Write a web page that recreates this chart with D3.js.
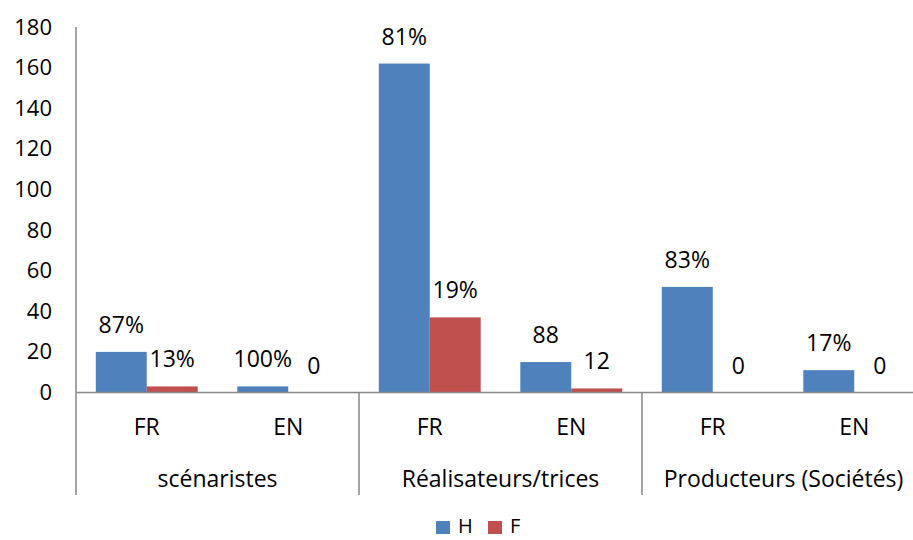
<!DOCTYPE html>
<html><head><meta charset="utf-8">
<script src="https://cdn.jsdelivr.net/npm/d3@7"></script>
<style>body{margin:0;background:#fff}svg{display:block}text{font-family:"Open Sans","Noto Sans",sans-serif;fill:#000}</style>
</head><body>
<svg id="c" width="913" height="540"></svg>
<script>
const groups = ["scénaristes", "Réalisateurs/trices", "Producteurs (Sociétés)"];
const langs = ["FR", "EN"];
const series = ["H", "F"];
const colors = ["#4f81bd", "#c0504d"];
const valuesH = [20, 3, 162, 15, 52, 11];
const valuesF = [3, 0, 37, 2, 0, 0];
const labelsH = ["87%", "100%", "81%", "88", "83%", "17%"];
const labelsF = ["13%", "0", "19%", "12", "0", "0"];
const yTicks = [0, 20, 40, 60, 80, 100, 120, 140, 160, 180];

const svg = d3.select("#c");
const x0 = 76, x1 = 925, yBase = 392.5, yTop = 27;
const y = d3.scaleLinear().domain([0, 180]).range([yBase, yTop]);
const cats = [];
groups.forEach((g, gi) => langs.forEach((l, li) => cats.push({g, l, i: gi * 2 + li})));
const xc = d3.scaleBand().domain(cats.map(c => c.i)).range([x0, x1]).paddingInner(0.28).paddingOuter(0.14);
const xs = d3.scaleBand().domain(series).range([0, xc.bandwidth()]);
const xg = d3.scaleBand().domain(groups).range([x0, x1]);
const xcat = d3.scaleBand().domain(cats.map(c => c.i)).range([x0, x1]);

const axisColor = "#868686";
// y axis
const yAxis = svg.append("g").attr("transform", `translate(${x0},0)`)
  .call(d3.axisLeft(y).tickValues(yTicks).tickSize(0).tickPadding(24).tickFormat(d3.format("d")));
yAxis.select(".domain").attr("stroke", axisColor).attr("stroke-width", 1.5).attr("d", `M0,${yTop}V${yBase}`);
yAxis.selectAll("text").attr("font-size", 22).attr("font-family", "Open Sans").attr("fill", "#000");

// bars
const data = [];
cats.forEach((c, k) => {
  data.push({k, s: "H", v: valuesH[k], lab: labelsH[k], col: colors[0]});
  data.push({k, s: "F", v: valuesF[k], lab: labelsF[k], col: colors[1]});
});
svg.append("g").selectAll("rect").data(data).join("rect")
  .attr("x", d => xc(d.k) + xs(d.s))
  .attr("width", xs.bandwidth())
  .attr("y", d => y(d.v))
  .attr("height", d => yBase - y(d.v))
  .attr("fill", d => d.col);

svg.append("g").selectAll("text").data(data).join("text")
  .attr("x", d => xc(d.k) + xs(d.s) + xs.bandwidth() / 2)
  .attr("y", d => y(d.v) - 19)
  .attr("text-anchor", "middle")
  .attr("font-size", 23)
  .text(d => d.lab);

// x axis line
svg.append("line").attr("x1", x0).attr("x2", x1).attr("y1", yBase).attr("y2", yBase)
  .attr("stroke", axisColor).attr("stroke-width", 1.5);
// group separators
const seps = groups.map(g => xg(g));
svg.append("g").selectAll("line").data(seps).join("line")
  .attr("x1", d => d).attr("x2", d => d).attr("y1", yBase).attr("y2", 495)
  .attr("stroke", axisColor).attr("stroke-width", 1.5);

// category labels
svg.append("g").selectAll("text").data(cats).join("text")
  .attr("x", c => xcat(c.i) + xcat.bandwidth() / 2)
  .attr("y", 435)
  .attr("text-anchor", "middle").attr("font-size", 23)
  .text(c => c.l);
svg.append("g").selectAll("text").data(groups).join("text")
  .attr("x", g => xg(g) + xg.bandwidth() / 2)
  .attr("y", 487)
  .attr("text-anchor", "middle").attr("font-size", 23)
  .text(g => g);

// legend
const leg = svg.append("g");
const legX = [436, 488];
series.forEach((s, i) => {
  leg.append("rect").attr("x", legX[i]).attr("y", 521).attr("width", 14).attr("height", 13).attr("fill", colors[i]);
  leg.append("text").attr("x", legX[i] + 22).attr("y", 533).attr("font-size", 20).text(s);
});
</script>
</body></html>
